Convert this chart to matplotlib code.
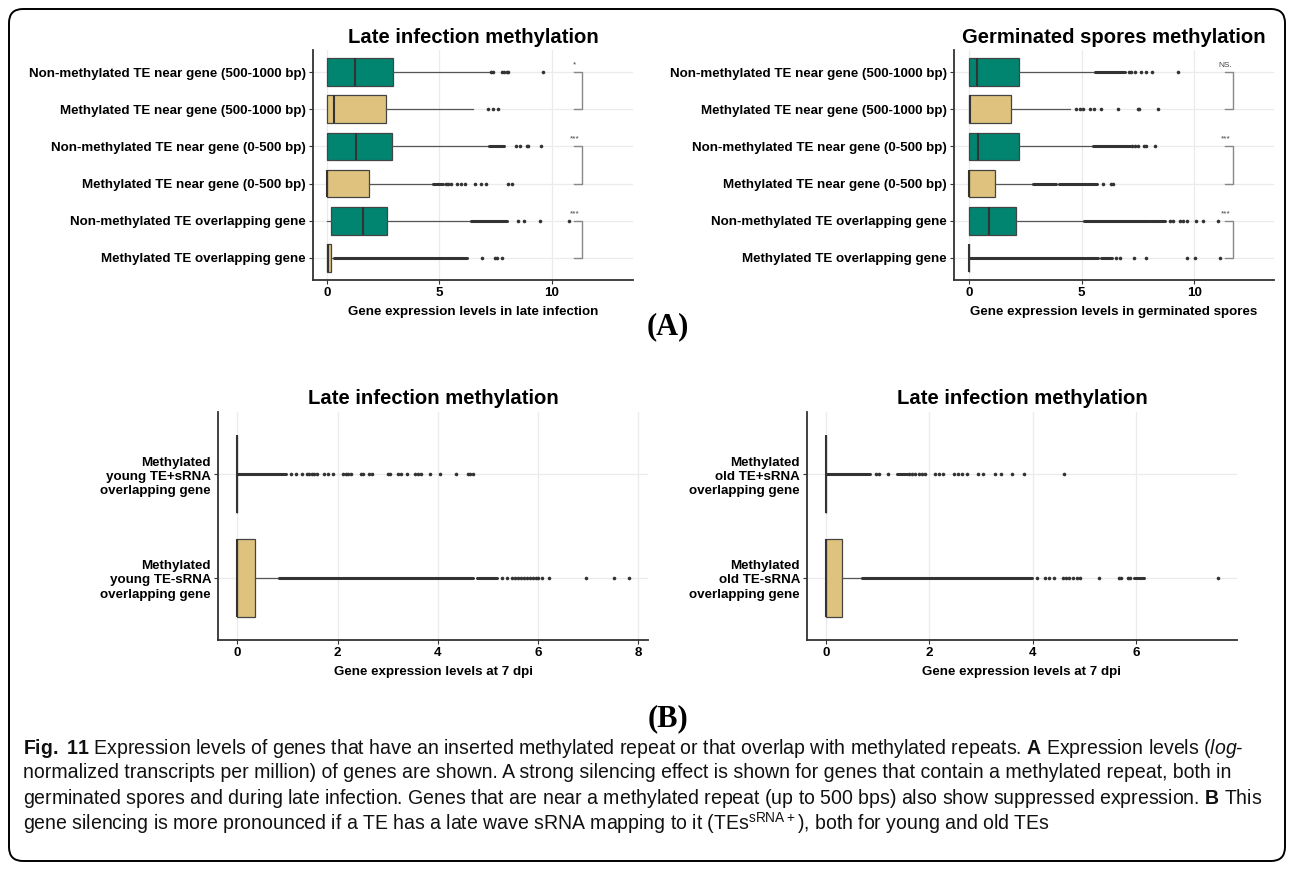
import matplotlib
matplotlib.use('Agg')
import matplotlib.pyplot as plt
from matplotlib import font_manager
from matplotlib.patches import FancyBboxPatch

# ---- data (rows listed bottom -> top) ----
A_LABELS = ['Methylated TE overlapping gene',
            'Non-methylated TE overlapping gene',
            'Methylated TE near gene (0-500 bp)',
            'Non-methylated TE near gene (0-500 bp)',
            'Methylated TE near gene (500-1000 bp)',
            'Non-methylated TE near gene (500-1000 bp)']

late_wlo = [0, 0, 0, 0, 0, 0]
late_q1 = [0, 0.18, 0, 0, 0, 0]
late_med = [0.05, 1.62, 0, 1.28, 0.33, 1.26]
late_q3 = [0.16, 2.69, 1.89, 2.88, 2.64, 2.92]
late_whi = [0.25, 6.4, 4.7, 7.16, 6.5, 7.24]
late_dense = [[(0.3, 6.23)], [(6.4, 7.98)], [(4.7, 5.17)], [(7.2, 7.86)], [], []]
late_fliers = [[6.9, 7.46, 7.56, 7.77],
               [8.5, 8.75, 9.45, 10.77],
               [5.3, 5.4, 5.5, 5.76, 5.95, 6.13, 6.6, 6.84, 7.05, 8.05, 8.23],
               [8.4, 8.6, 8.9, 8.95, 9.5],
               [7.16, 7.36, 7.6],
               [7.31, 7.39, 7.8, 7.87, 7.98, 8.05, 9.62]]
late_sig = [(6, 5, '*'), (4, 3, '***'), (2, 1, '***')]

spore_wlo = [0, 0, 0, 0, 0, 0]
spore_q1 = [0, 0, 0, 0, 0, 0]
spore_med = [0, 0.87, 0, 0.4, 0.06, 0.36]
spore_q3 = [0, 2.07, 1.16, 2.21, 1.87, 2.24]
spore_whi = [0, 5.1, 2.84, 5.51, 4.5, 5.58]
spore_dense = [[(0, 5.73), (5.88, 6.33)],
               [(5.1, 7.36), (7.4, 8.03), (8.1, 8.7)],
               [(2.84, 3.88), (4.0, 5.7)],
               [(5.51, 7.14)],
               [],
               [(5.58, 6.92)]]
spore_fliers = [[6.55, 6.7, 7.32, 7.88, 9.69, 10.03, 11.14],
                [8.92, 9.07, 9.36, 9.51, 9.69, 10.07, 10.4, 11.08],
                [5.96, 6.3, 6.4],
                [7.26, 7.36, 7.5, 7.78, 7.88, 8.27],
                [4.73, 4.95, 5.07, 5.36, 5.56, 5.85, 6.62, 7.5, 7.56, 8.41],
                [7.1, 7.2, 7.37, 7.66, 7.88, 8.13, 9.3]]
spore_sig = [(6, 5, 'NS.'), (4, 3, '***'), (2, 1, '***')]

young_labels = ['Methylated\nyoung TE-sRNA\noverlapping gene',
                'Methylated\nyoung TE+sRNA\noverlapping gene']
young_wlo = [0, 0]
young_q1 = [0, 0]
young_med = [0, 0]
young_q3 = [0.346, 0]
young_whi = [0.84, 0]
young_dense = [[(0.84, 4.7), (4.78, 5.17)], [(0, 0.98)]]
young_fliers = [[5.27, 5.37, 5.47, 5.53, 5.6, 5.66, 5.72, 5.78, 5.83, 5.9, 5.95,
                 6.0, 6.07, 6.22, 6.95, 7.52, 7.82],
                [1.08, 1.17, 1.30, 1.38, 1.43, 1.48, 1.53, 1.58, 1.72, 1.80, 1.91,
                 2.11, 2.17, 2.21, 2.26, 2.46, 2.51, 2.63, 2.69, 3.01, 3.05, 3.21,
                 3.26, 3.38, 3.54, 3.61, 3.66, 3.84, 4.04, 4.36, 4.61, 4.65, 4.71]]

old_labels = ['Methylated\nold TE-sRNA\noverlapping gene',
              'Methylated\nold TE+sRNA\noverlapping gene']
old_wlo = [0, 0]
old_q1 = [0, 0]
old_med = [0, 0]
old_q3 = [0.3, 0]
old_whi = [0.7, 0]
old_dense = [[(0.7, 3.99), (5.96, 6.15)], [(0, 0.85), (1.37, 1.56)]]
old_fliers = [[4.08, 4.24, 4.31, 4.42, 4.58, 4.64, 4.7, 4.78, 4.86, 4.91, 5.28,
               5.67, 5.71, 5.84, 5.89, 7.59],
              [0.97, 1.03, 1.19, 1.6, 1.66, 1.72, 1.79, 1.85, 1.92, 2.11, 2.18,
               2.26, 2.47, 2.56, 2.63, 2.73, 2.95, 3.04, 3.27, 3.38, 3.6, 3.84, 4.6]]

caption = [
    r'$\mathbf{Fig.}$ $\mathbf{11}$ Expression levels of genes that have an inserted methylated repeat or that overlap with methylated repeats. $\mathbf{A}$ Expression levels ($\mathit{log}$-',
    'normalized transcripts per million) of genes are shown. A strong silencing effect is shown for genes that contain a methylated repeat, both in',
    r'germinated spores and during late infection. Genes that are near a methylated repeat (up to 500 bps) also show suppressed expression. $\mathbf{B}$ This',
    r'gene silencing is more pronounced if a TE has a late wave sRNA mapping to it (TEs$^{\mathrm{sRNA+}}$), both for young and old TEs',
]

GREEN = '#018571'
TAN = '#dfc27d'
DARK = '#333333'

plt.rcParams['font.family'] = ['Liberation Sans', 'DejaVu Sans']
names = {f.name for f in font_manager.fontManager.ttflist}
cap_family = 'Liberation Sans Narrow' if 'Liberation Sans Narrow' in names else 'Liberation Sans'
plt.rcParams['mathtext.fontset'] = 'custom'
plt.rcParams['mathtext.rm'] = cap_family
plt.rcParams['mathtext.bf'] = cap_family + ':bold'
plt.rcParams['mathtext.it'] = cap_family + ':italic'

W, H = 1292, 869
fig = plt.figure(figsize=(W / 100, H / 100), dpi=100)


def px_axes(l, t, r, b):
    return fig.add_axes([l / W, 1 - b / H, (r - l) / W, (b - t) / H])


def draw_panel(ax, wlo, q1, med, q3, whi, dense, fliers, colors, labels,
               xlim, xticks, title, xlabel, title_pad):
    n = len(q1)
    stats = [dict(whislo=wlo[i], q1=q1[i], med=med[i], q3=q3[i], whishi=whi[i])
             for i in range(n)]
    bp = ax.bxp(stats, positions=range(1, n + 1), orientation='horizontal',
                widths=0.75, patch_artist=True, showfliers=False, showcaps=False,
                boxprops=dict(edgecolor='#444444', linewidth=0.9),
                medianprops=dict(color=DARK, linewidth=1.5),
                whiskerprops=dict(color='#555555', linewidth=0.9))
    for patch, c in zip(bp['boxes'], colors):
        patch.set_facecolor(c)
    for i, runs in enumerate(dense):
        for s, e in runs:
            ax.plot([s, e], [i + 1, i + 1], color=DARK, lw=2.2,
                    solid_capstyle='round', zorder=3)
    for i, pts in enumerate(fliers):
        ax.plot(pts, [i + 1] * len(pts), 'o', ms=2.6, color=DARK, mec='none', zorder=3)

    ax.set_xlim(*xlim)
    ax.set_ylim(0.4, n + 0.6)
    ax.set_xticks(xticks)
    ax.set_yticks(range(1, n + 1))
    ax.set_yticklabels(labels, fontweight='bold', fontsize=9.6, linespacing=1.25)
    ax.set_xticklabels([str(t) for t in xticks], fontweight='bold', fontsize=9.6)
    ax.grid(True, color='#ebebeb', lw=0.9)
    ax.set_axisbelow(True)
    for s in ['top', 'right']:
        ax.spines[s].set_visible(False)
    for s in ['left', 'bottom']:
        ax.spines[s].set_color(DARK)
        ax.spines[s].set_linewidth(1.3)
    ax.tick_params(length=3, width=0.8, color=DARK, labelcolor='black', pad=2)
    ax.set_title(title, fontsize=14.6, fontweight='bold', pad=title_pad)
    ax.set_xlabel(xlabel, fontsize=9.6, fontweight='bold', labelpad=5)


def draw_sig(ax, sig, bx):
    for top, bot, lab in sig:
        ax.plot([bx - 0.33, bx, bx, bx - 0.33], [top, top, bot, bot],
                color='#888888', lw=1.0)
        ax.text(bx - 0.33, top + 0.1, lab, ha='center', va='bottom',
                fontsize=6, color='#444444')


a_colors = [TAN, GREEN] * 3

ax1 = px_axes(313, 50, 633, 280)
draw_panel(ax1, late_wlo, late_q1, late_med, late_q3, late_whi, late_dense,
           late_fliers, a_colors, A_LABELS, (-0.62, 13.6), [0, 5, 10],
           'Late infection methylation', 'Gene expression levels in late infection', 5)
draw_sig(ax1, late_sig, 11.33)

ax2 = px_axes(954, 50, 1274, 280)
draw_panel(ax2, spore_wlo, spore_q1, spore_med, spore_q3, spore_whi, spore_dense,
           spore_fliers, a_colors, A_LABELS, (-0.67, 13.55), [0, 5, 10],
           'Germinated spores methylation', 'Gene expression levels in germinated spores', 5)
draw_sig(ax2, spore_sig, 11.72)

ax3 = px_axes(218, 412, 648, 640)
draw_panel(ax3, young_wlo, young_q1, young_med, young_q3, young_whi, young_dense,
           young_fliers, [TAN, TAN], young_labels, (-0.385, 8.19), [0, 2, 4, 6, 8],
           'Late infection methylation', 'Gene expression levels at 7 dpi', 6)

ax4 = px_axes(807, 412, 1237, 640)
draw_panel(ax4, old_wlo, old_q1, old_med, old_q3, old_whi, old_dense,
           old_fliers, [TAN, TAN], old_labels, (-0.37, 7.96), [0, 2, 4, 6],
           'Late infection methylation', 'Gene expression levels at 7 dpi', 6)

fig.text(668 / W, 1 - 327 / H, '(A)', ha='center', va='center', fontsize=22,
         fontweight='bold', family='Liberation Serif')
fig.text(668 / W, 1 - 719 / H, '(B)', ha='center', va='center', fontsize=22,
         fontweight='bold', family='Liberation Serif')

# caption, size fitted so the widest line spans the same width as in the original
cap_y = [748, 773, 798, 823]
texts = [fig.text(23 / W, 1 - y / H, line, ha='left', va='center', fontsize=12,
                  family=cap_family, color='#111111')
         for line, y in zip(caption, cap_y)]
renderer = fig.canvas.get_renderer()
w0 = max(t.get_window_extent(renderer).width for t in texts)
for t in texts:
    t.set_fontsize(12 * 1240 / w0)

frame = FancyBboxPatch((0.09, 0.08), 12.76, 8.52,
                       boxstyle='round,pad=0,rounding_size=0.14',
                       transform=fig.dpi_scale_trans, fill=False,
                       edgecolor='black', lw=1.4)
fig.patches.append(frame)

fig.savefig('out.png', dpi=100)
